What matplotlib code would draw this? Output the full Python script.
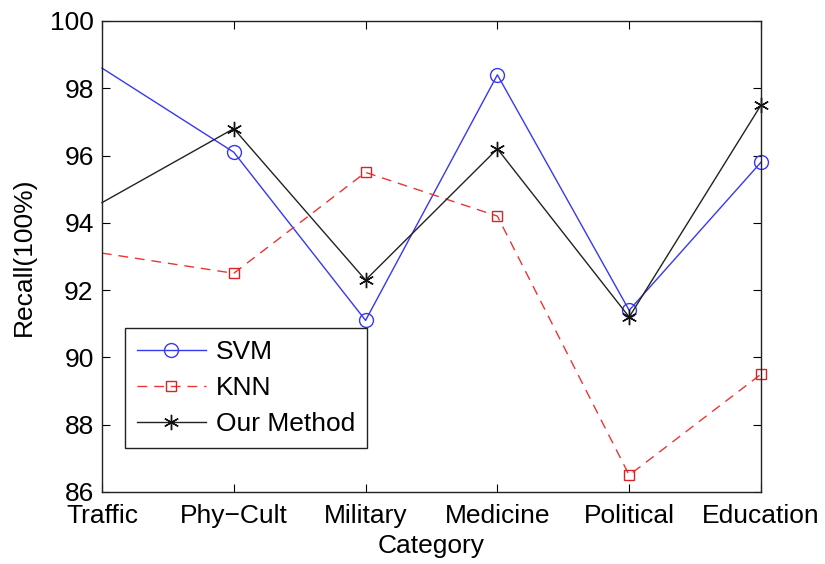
import matplotlib
matplotlib.use("Agg")
import matplotlib.pyplot as plt

categories = ["Traffic", "Phy\u2212Cult", "Military", "Medicine", "Political", "Education"]
svm = [98.6, 96.1, 91.1, 98.4, 91.4, 95.8]
knn = [93.1, 92.5, 95.5, 94.2, 86.5, 89.5]
ours = [94.6, 96.8, 92.3, 96.2, 91.2, 97.5]
yticks = [86, 88, 90, 92, 94, 96, 98, 100]

plt.rcParams['font.family'] = ['Liberation Sans', 'DejaVu Sans']

fig = plt.figure(figsize=(8.25, 5.64), dpi=100)
ax = fig.add_axes([0.1236, 0.1277, 0.7988, 0.8351])
x = list(range(len(categories)))
mk = list(range(1, len(categories)))

ax.plot(x, svm, color='#3838f0', lw=1.0, marker='o', ms=10, mfc='none', mec='#3838f0', mew=1.0,
        markevery=mk, clip_on=False, label='SVM')
ax.plot(x, knn, color='#ee3333', lw=1.0, ls=(0, (7, 5)), marker='s', ms=7, mfc='none', mec='#dd2222',
        mew=1.0, markevery=mk, clip_on=False, label='KNN')
ax.plot(x, ours, color='#222222', lw=1.0, marker=(6, 2, 0), ms=11, mec='#111111', mew=1.0,
        markevery=mk, clip_on=False, label='Our Method')

ax.set_xlim(0, 5)
ax.set_ylim(86, 100)
ax.set_xticks(x)
ax.set_xticklabels(categories)
ax.set_yticks(yticks)
ax.tick_params(direction='in', top=True, right=True, labelsize=19, length=6, width=0.8, pad=6)
ax.tick_params(axis='x', pad=9)
for s in ax.spines.values():
    s.set_linewidth(1.0)
    s.set_color('#222222')

ax.set_xlabel('Category', fontsize=19, labelpad=4)
ax.set_ylabel('Recall(100%)', fontsize=19, labelpad=10)

leg = ax.legend(loc='lower left', bbox_to_anchor=(0.035, 0.094), fontsize=19, frameon=True,
                fancybox=False, edgecolor='#222222', framealpha=1, handlelength=2.6,
                borderpad=0.45, labelspacing=0.45, handletextpad=0.4, borderaxespad=0)
leg.get_frame().set_linewidth(1.0)

fig.savefig('out.png', dpi=100)
